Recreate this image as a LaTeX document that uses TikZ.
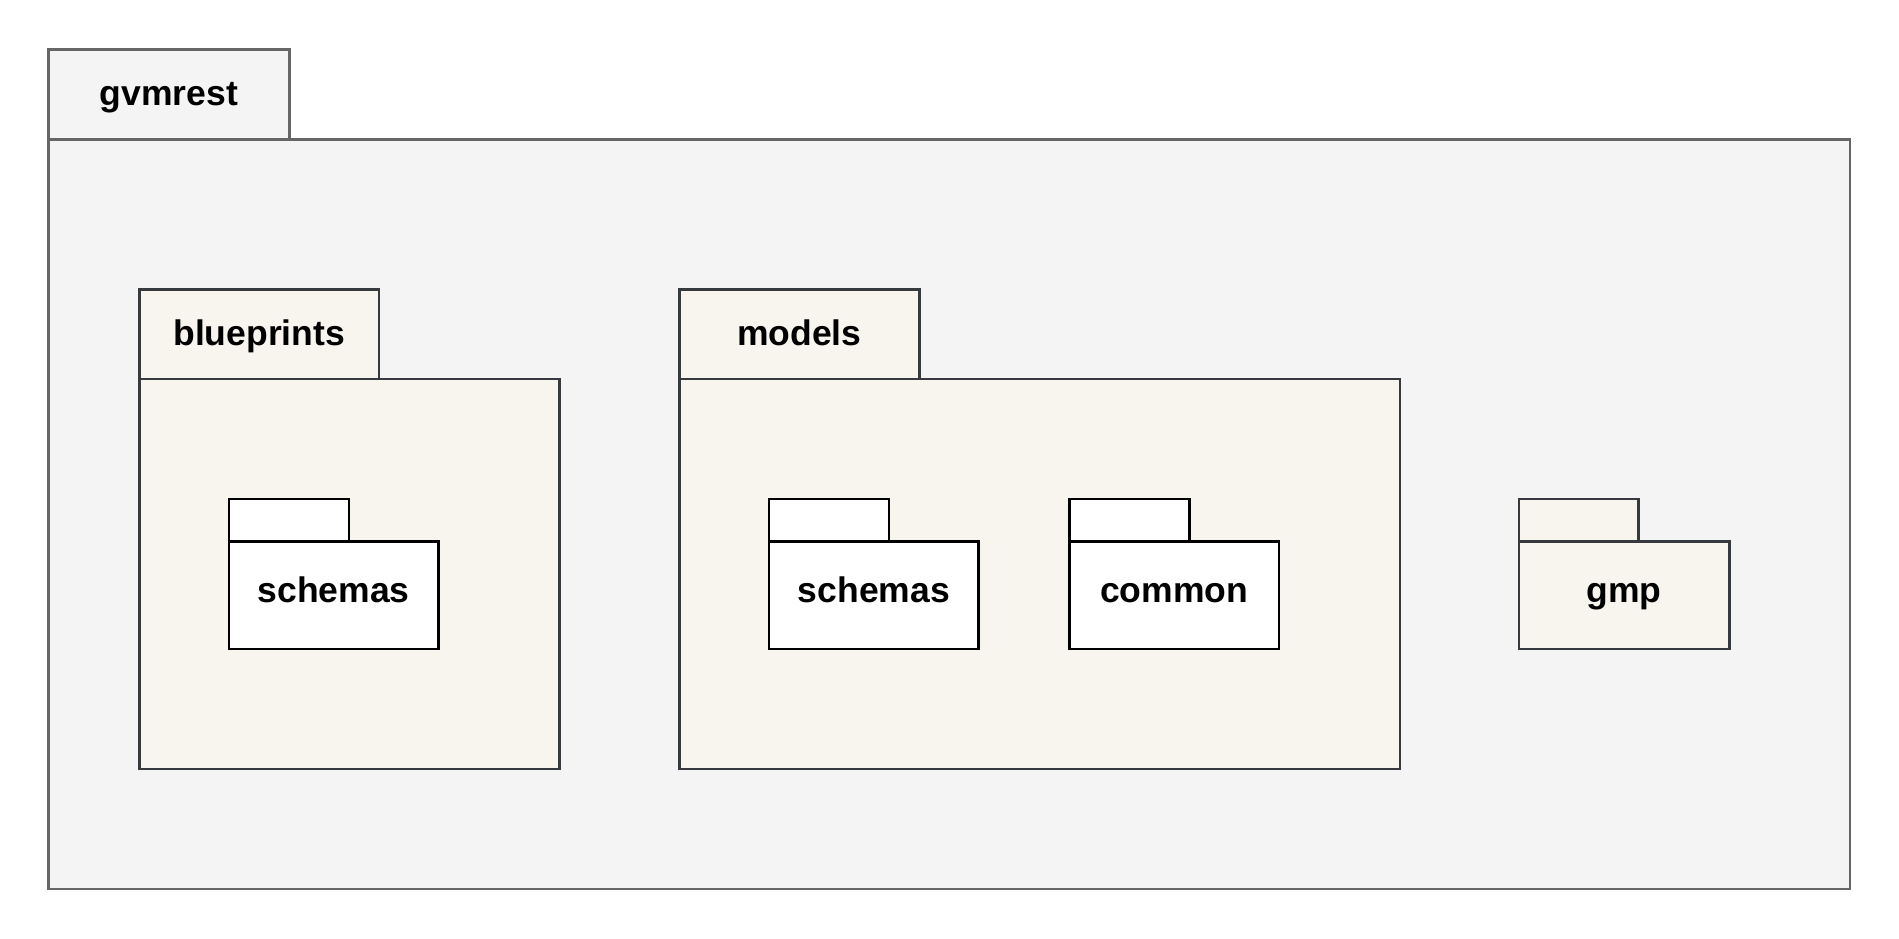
\documentclass[tikz,border=0pt]{standalone}
\usepackage{fontspec}
\setmainfont{Liberation Sans}
\definecolor{pkggray}{HTML}{F4F4F4}
\definecolor{pkgline}{HTML}{666666}
\definecolor{pkgbeige}{HTML}{F7F5EE}
\definecolor{pkgdark}{HTML}{36393D}

\begin{document}
\begin{tikzpicture}[x=0.024222cm,y=-0.024222cm,
  every node/.style={inner sep=0pt,outer sep=0pt,font=\fontsize{20.2}{24}\selectfont\bfseries},
  outerpkg/.style={draw=pkgline,fill=pkggray,line width=1.4pt,anchor=north west},
  midpkg/.style={draw=pkgdark,fill=pkgbeige,line width=1.4pt,anchor=north west},
  subpkg/.style={draw=black,fill=white,line width=1.4pt,anchor=north west},
  tabtext/.style={text height=16pt,text depth=3pt},
  subtext/.style={text height=14pt,text depth=6pt}]
\useasboundingbox (0,0) rectangle (1568,775);

% Outer package
\node[outerpkg,tabtext,minimum width=4.820cm,minimum height=1.792cm] (gvmresttab) at (40,41) {gvmrest};
\node[outerpkg,minimum width=36.02cm,minimum height=14.99cm] (gvmrest) at (40,115) {};

% blueprints
\node[midpkg,tabtext,minimum width=4.796cm,minimum height=1.792cm] (blueprintstab) at (115,239) {blueprints};
\node[midpkg,minimum width=8.405cm,minimum height=7.80cm] (blueprints) at (115,313) {};

% models
\node[midpkg,tabtext,minimum width=4.796cm,minimum height=1.792cm] (modelstab) at (561,239) {models};
\node[midpkg,minimum width=14.41cm,minimum height=7.80cm] (models) at (561,313) {};

% Sub packages
\foreach \x/\name/\lbl in {189/bpschemas/schemas,635/mdschemas/schemas,883/common/common} {
    \node[subpkg,minimum width=2.398cm,minimum height=0.848cm] (\name tab) at (\x,412) {};
    \node[subpkg,subtext,minimum width=4.19cm,minimum height=2.156cm] (\name) at (\x,447) {\lbl};
}

% gmp
\node[midpkg,minimum width=2.398cm,minimum height=0.848cm] (gmptab) at (1254,412) {};
\node[midpkg,subtext,minimum width=4.215cm,minimum height=2.156cm] (gmp) at (1254,447) {gmp};
\end{tikzpicture}
\end{document}
